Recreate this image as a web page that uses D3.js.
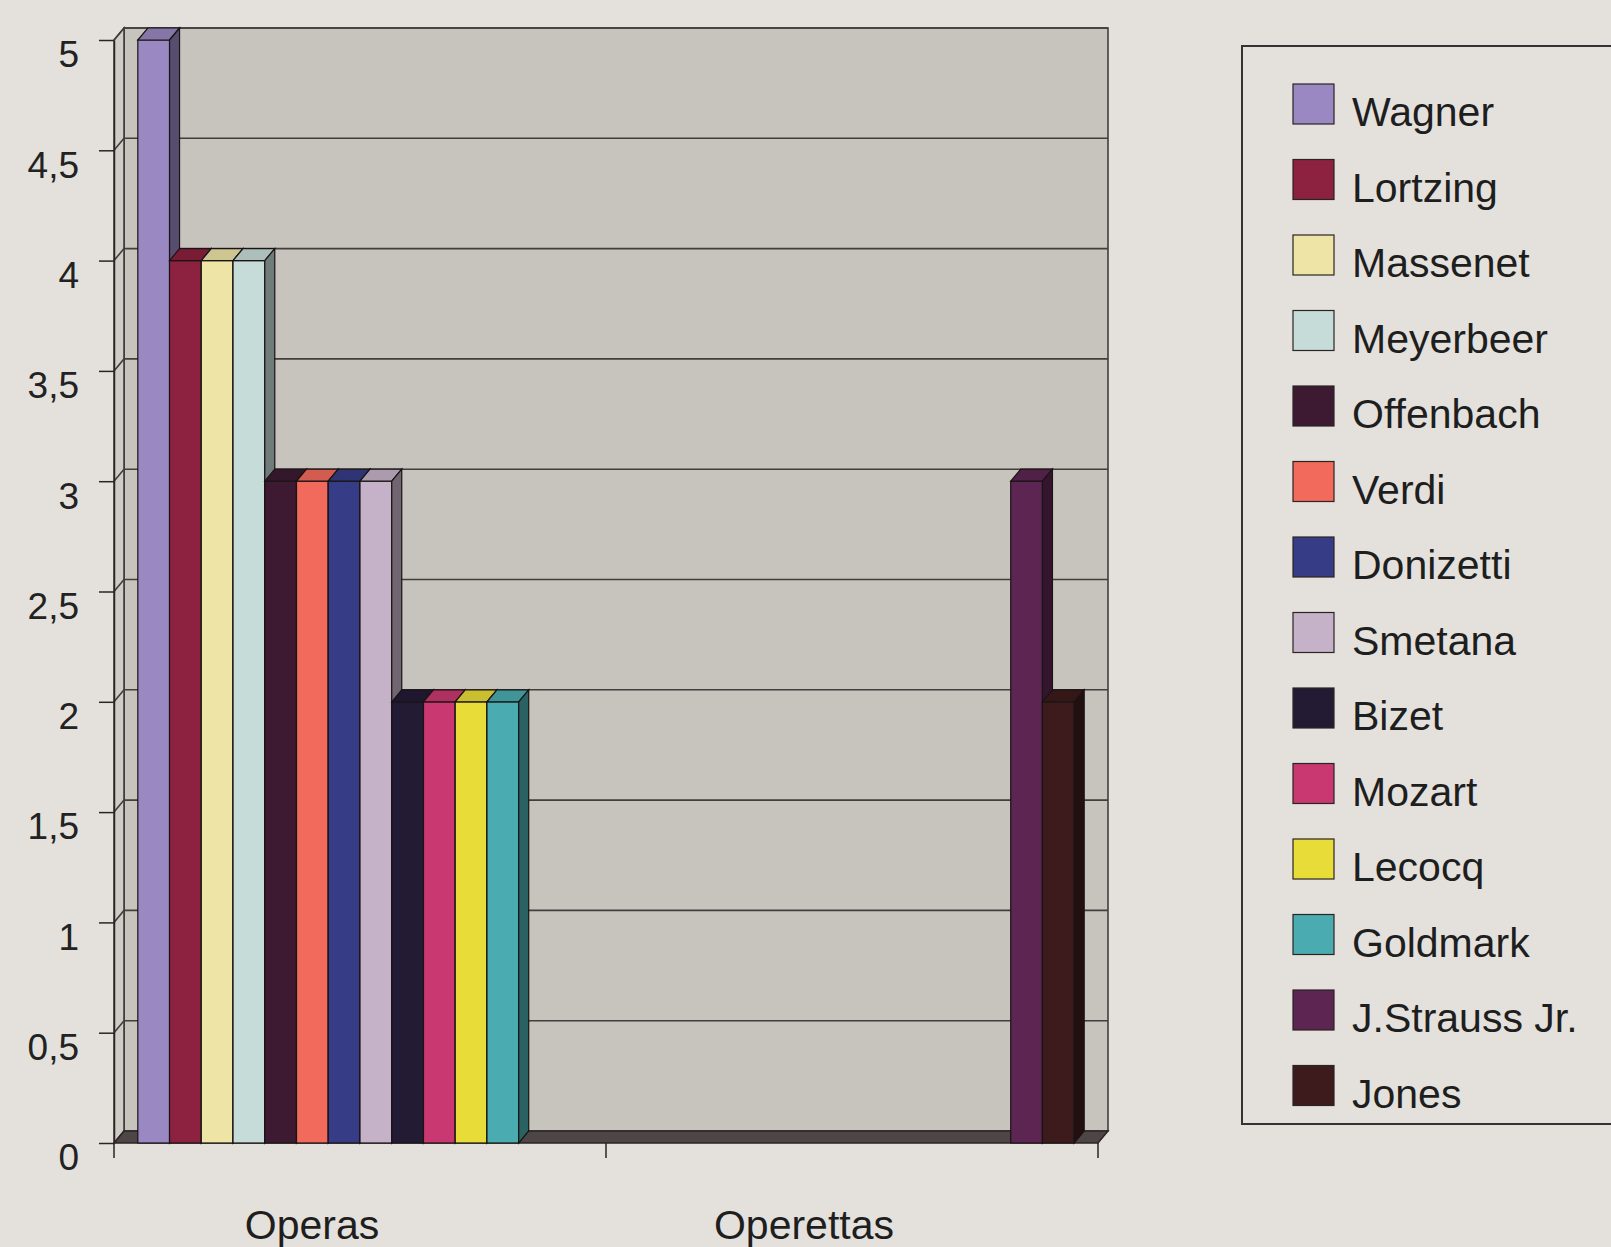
<!DOCTYPE html>
<html>
<head>
<meta charset="utf-8">
<script src="https://cdn.jsdelivr.net/npm/d3@7.9.0/dist/d3.min.js"></script>
<style>
  html, body { margin: 0; padding: 0; background: #e4e1dc; overflow: hidden; }
  svg { display: block; font-family: "Liberation Sans", Arial, sans-serif; }
</style>
</head>
<body>
<svg id="chart" width="1611" height="1247"></svg>
<script>
const categories = ['Operas', 'Operettas'];
const composers = ['Wagner', 'Lortzing', 'Massenet', 'Meyerbeer', 'Offenbach', 'Verdi', 'Donizetti',
  'Smetana', 'Bizet', 'Mozart', 'Lecocq', 'Goldmark', 'J.Strauss Jr.', 'Jones'];
const operaCounts    = [5, 4, 4, 4, 3, 3, 3, 3, 2, 2, 2, 2, 0, 0];
const operettaCounts = [0, 0, 0, 0, 0, 0, 0, 0, 0, 0, 0, 0, 3, 2];
const composerColors = ['#9a88c2', '#8c2240', '#ede4a6', '#c6dcd8', '#3d1a32', '#f26a5c', '#363c86',
  '#c6b2c8', '#231a34', '#c93870', '#e8dc38', '#4aacb0', '#5c2552', '#3d1b1c'];
const yTicks = [0, 0.5, 1, 1.5, 2, 2.5, 3, 3.5, 4, 4.5, 5];
const yTickLabels = ['0', '0,5', '1', '1,5', '2', '2,5', '3', '3,5', '4', '4,5', '5'];

const FONT = '"Liberation Sans", Arial, sans-serif';
const svg = d3.select('#chart');

const x = d3.scaleBand().domain(categories).range([114, 1098]);
const xs = d3.scaleBand().domain(composers).range([0, x.bandwidth()]).paddingOuter(0.75);
const y = d3.scaleLinear().domain([0, 5]).range([1143, 40]);

// 3d depth offset
const dx = 10, dy = -12;
const [x0, x1] = x.range();
const yTop = y(5), yBot = y(0);
const pts = (arr) => arr.map(p => p.join(',')).join(' ');

// back wall, side wall, floor
svg.append('rect')
  .attr('x', x0 + dx).attr('y', yTop + dy)
  .attr('width', x1 - x0).attr('height', yBot - yTop)
  .attr('fill', '#c7c3bd').attr('stroke', '#3a3434').attr('stroke-width', 1.5);
svg.append('polygon')
  .attr('points', pts([[x0, yTop], [x0 + dx, yTop + dy], [x0 + dx, yBot + dy], [x0, yBot]]))
  .attr('fill', '#cfcbc5').attr('stroke', '#3a3434').attr('stroke-width', 1.5);
svg.append('polygon')
  .attr('points', pts([[x0, yBot], [x1, yBot], [x1 + dx, yBot + dy], [x0 + dx, yBot + dy]]))
  .attr('fill', '#4e4646').attr('stroke', '#2a2424').attr('stroke-width', 1.5);

// gridlines on walls
svg.append('g').selectAll('polyline')
  .data(yTicks.filter(t => t > 0))
  .join('polyline')
  .attr('points', t => pts([[x0, y(t)], [x0 + dx, y(t) + dy], [x1 + dx, y(t) + dy]]))
  .attr('fill', 'none').attr('stroke', '#433d3d').attr('stroke-width', 1.6);

// bars
const rows = categories.flatMap((c, ci) => composers.map((name, si) => ({
  cat: c, name,
  value: ci === 0 ? operaCounts[si] : operettaCounts[si],
  color: composerColors[si]
}))).filter(d => d.value > 0);

const bars = svg.append('g').selectAll('g').data(rows).join('g');
bars.each(function (d) {
  const g = d3.select(this);
  const bx = x(d.cat) + xs(d.name);
  const w = xs.bandwidth();
  const top = y(d.value);
  const c = d3.color(d.color);
  g.append('rect')
    .attr('x', bx).attr('y', top).attr('width', w).attr('height', yBot - top)
    .attr('fill', d.color).attr('stroke', '#1a1414').attr('stroke-width', 1.2);
  g.append('polygon')
    .attr('points', pts([[bx, top], [bx + w, top], [bx + w + dx, top + dy], [bx + dx, top + dy]]))
    .attr('fill', c.darker(0.4)).attr('stroke', '#1a1414').attr('stroke-width', 1.2);
  g.append('polygon')
    .attr('points', pts([[bx + w, top], [bx + w + dx, top + dy], [bx + w + dx, yBot + dy], [bx + w, yBot]]))
    .attr('fill', c.darker(1.6)).attr('stroke', '#1a1414').attr('stroke-width', 1.2);
});

// y axis
const yAxis = svg.append('g')
  .attr('transform', `translate(${x0},0)`)
  .call(d3.axisLeft(y).tickValues(yTicks).tickFormat((d, i) => yTickLabels[i])
    .tickSize(15).tickSizeOuter(0).tickPadding(20));
yAxis.select('.domain').attr('stroke', '#2a2424').attr('stroke-width', 1.5);
yAxis.selectAll('.tick line').attr('stroke', '#2a2424').attr('stroke-width', 1.5);
yAxis.selectAll('.tick text')
  .attr('font-size', 37).attr('fill', '#222')
  .attr('font-family', FONT)
  .attr('transform', 'translate(0,15)');

// category ticks at band edges
const edges = [x0, ...categories.slice(1).map(c => x(c)), x1];
svg.append('g').selectAll('line').data(edges).join('line')
  .attr('x1', d => d).attr('x2', d => d)
  .attr('y1', yBot).attr('y2', yBot + 15)
  .attr('stroke', '#2a2424').attr('stroke-width', 1.5);

svg.append('g').selectAll('text').data(categories).join('text')
  .attr('x', d => x(d) + x.bandwidth() / 2 - 48)
  .attr('y', 1239)
  .attr('text-anchor', 'middle')
  .attr('font-size', 41).attr('fill', '#1e1e1e')
  .text(d => d);

// legend
const legend = svg.append('g');
legend.append('rect')
  .attr('x', 1242).attr('y', 46).attr('width', 420).attr('height', 1078)
  .attr('fill', 'none').attr('stroke', '#333').attr('stroke-width', 2);
const items = legend.selectAll('g.item').data(composers).join('g')
  .attr('class', 'item')
  .attr('transform', (d, i) => `translate(1293,${84 + i * 75.5})`);
items.append('rect')
  .attr('width', 41).attr('height', 40)
  .attr('fill', (d, i) => composerColors[i])
  .attr('stroke', '#2a2424').attr('stroke-width', 1.2);
items.append('text')
  .attr('x', 59).attr('y', 42)
  .attr('font-size', 41).attr('fill', '#1e1e1e')
  .text(d => d);
</script>
</body>
</html>
